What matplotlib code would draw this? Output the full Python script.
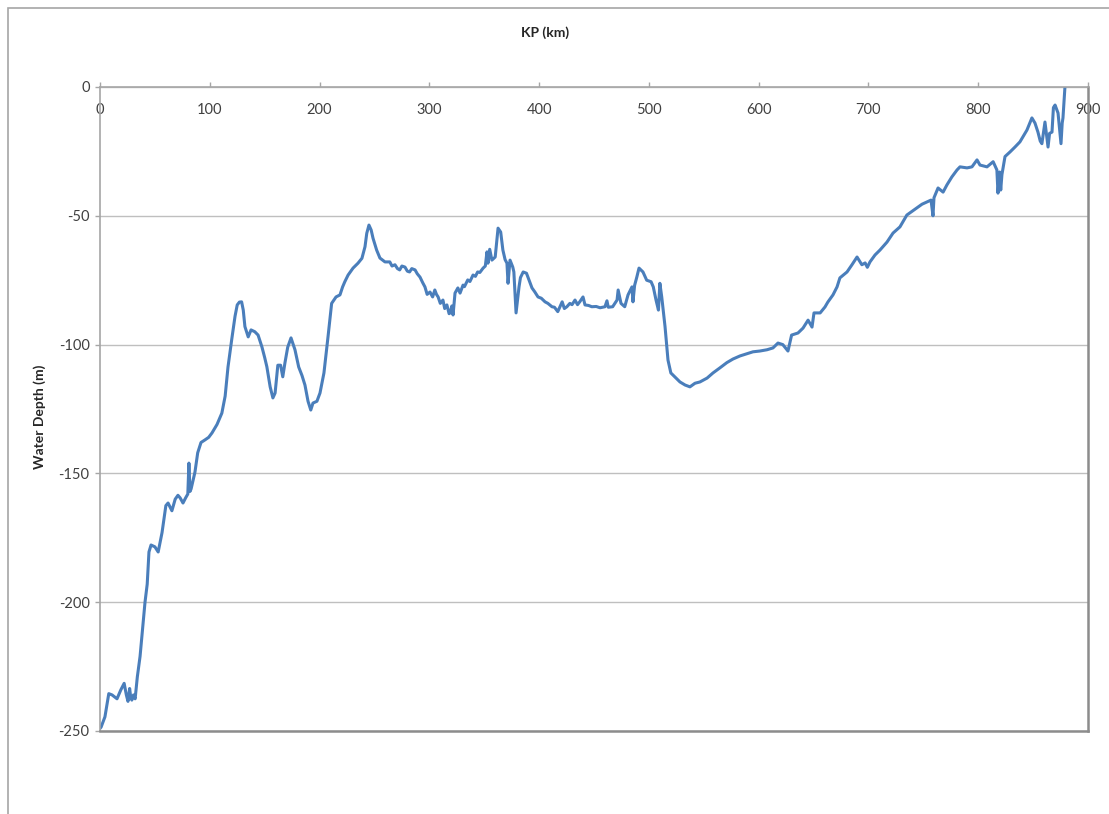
import matplotlib
matplotlib.use("Agg")
import matplotlib.pyplot as plt
from matplotlib.patches import Rectangle

plt.rcParams['font.family'] = ['Lato', 'DejaVu Sans']
plt.rcParams['axes.unicode_minus'] = False

# route profile: kilometre point vs water depth
kp_km = [
    0, 1, 4.5, 8, 11, 15.5, 19, 22, 24, 25.5, 27, 28, 29, 30.5, 32, 34, 36.5, 39, 41, 43,
    44.6, 46.5, 50, 53, 56.5, 60, 62, 65.5, 68.5, 71, 73, 75.6, 78, 80, 81, 82, 83, 86.5,
    89, 92, 95.6, 99, 102, 106.6, 111, 114, 116.6, 120, 123, 125, 127, 129, 130.5, 132,
    133.5, 135, 137.6, 141, 144, 147.5, 150, 152, 155, 157.5, 159.5, 162, 164.5, 166.5,
    168.5, 171, 174, 177.6, 181, 184, 186.7, 189.5, 192, 194, 197.6, 200.4, 204, 207.7,
    211, 215, 218.6, 221, 223, 226, 230.5, 235, 238.6, 241.4, 243, 245, 247, 248.7, 252,
    255, 259.6, 264, 266, 268.7, 271, 273, 275, 277.8, 280, 282, 284, 287, 289, 291.5, 294,
    296, 298, 300.6, 303, 305, 306.5, 308, 310, 312.4, 314, 316, 318, 319, 320.5, 321.6,
    323.4, 326, 328, 330.7, 332, 335, 337, 339.8, 342, 344, 346, 349, 351, 352.5, 353.4,
    355, 357, 360, 362.6, 365, 367, 369, 370.7, 371.7, 373.5, 376, 377, 379, 381.7, 383,
    385.5, 388.5, 393.5, 396, 399, 402, 405.4, 408, 411.7, 414, 417, 421, 423, 425.3, 428,
    430, 432.7, 435, 437, 440, 441.8, 445, 448, 452, 455.5, 460, 461.8, 463, 467, 471,
    472, 474.6, 478, 481, 484.6, 485.5, 487, 489, 491, 494.6, 498, 502, 504, 506.5, 508.7,
    510, 511.7, 514.7, 517.4, 520, 523.8, 528.3, 533, 537.4, 542, 546.5, 553, 558.4, 564.8,
    571, 576.6, 583, 589, 594.8, 601, 607.6, 613, 617.6, 622, 626.7, 630, 635.8, 640.4,
    645, 648.6, 650.4, 656, 660.4, 663, 667.7, 671.4, 674, 680.5, 685, 689.6, 694, 697,
    699, 701.4, 706, 710.5, 716.9, 722.4, 728.7, 735, 740.6, 748.8, 753.3, 757, 758.8,
    759.7, 763.4, 768, 771.5, 776, 780.7, 783.4, 789.8, 794.3, 798.9, 801.6, 808, 813.6,
    817, 818, 819.5, 820.5, 821.6, 824.4, 829, 833.5, 838, 844.4, 848.9, 851.7, 854.4,
    856.5, 858, 860.8, 863.6, 865, 867.2, 868.5, 870, 872.7, 875.4, 876.5, 877.2, 879,
]
depth_m = [
    -249, -248.5, -244.5, -235.5, -236, -237.5, -234, -231.5, -236, -238.5, -233.5, -237,
    -238, -236, -237.5, -229, -221, -209.5, -200, -193, -180.5, -177.8, -178.5, -180.5,
    -173, -162.5, -161.5, -164.5, -160, -158.5, -159.5, -161.5, -159.5, -158, -146, -157,
    -156, -149.5, -142, -138, -137, -136, -134.3, -131, -126.6, -120, -108.7, -98, -89,
    -84.6, -83.5, -83.4, -86.6, -93, -95, -97, -94.3, -95, -96.3, -100.9, -105, -108.6,
    -116.4, -120.7, -118.8, -108, -108, -112.5, -107, -101, -97.4, -102, -108.7, -112,
    -115.7, -122, -125.4, -122.7, -122, -118.8, -111, -97, -84, -81.5, -80.7, -77.6, -75.6,
    -73, -70.3, -68.4, -66.5, -62, -56.8, -53.6, -55.5, -58.7, -63.3, -66.4, -67.9, -67.9,
    -69.5, -69, -70.5, -71, -69.5, -69.9, -71.5, -71.8, -70.5, -71, -72.5, -73.8, -76,
    -77.6, -80.5, -79.6, -81.5, -78.8, -80.5, -81.5, -84, -82.7, -86, -84.6, -88, -87.7,
    -85, -88.5, -80, -78, -80, -76.9, -77.5, -74.9, -75.5, -73, -73.5, -71.8, -72, -70.3,
    -69.5, -64, -68.4, -63, -67.2, -66, -54.8, -56.3, -63.3, -67, -68.4, -76.2, -67.2,
    -69.9, -71.8, -87.7, -77.6, -74, -71.8, -72.3, -78, -79.5, -81.5, -82, -83.4, -84,
    -85.3, -85.5, -87.2, -83.4, -86, -85.3, -84, -84.5, -82.7, -84.5, -83.4, -81.5, -84.6,
    -84.8, -85.3, -85.2, -85.7, -85.3, -83, -85.5, -85.3, -82.7, -78.8, -84, -85.3, -80.7,
    -77.6, -83.4, -77, -73.8, -70.3, -71.8, -75, -75.6, -77.6, -82.7, -86.6, -76.2, -81.5,
    -93, -106, -111, -112.6, -114.5, -115.7, -116.4, -115, -114.5, -113, -111, -109, -107,
    -105.6, -104.4, -103.6, -102.8, -102.5, -102, -101.3, -99.4, -100, -102.5, -96.3,
    -95.5, -93.6, -90.5, -93.2, -87.7, -87.7, -85.4, -83.5, -80.7, -77.6, -74.1, -71.8,
    -69, -66, -69, -68.3, -70, -67.9, -65.2, -63.3, -60.2, -56.7, -54.3, -49.7, -48,
    -45.5, -44.6, -43.9, -50, -43, -39.2, -40.8, -38, -34.9, -32.2, -31, -31.4, -31, -28.3,
    -30.3, -31, -29, -32.2, -41.2, -33, -40, -34, -27, -25.2, -23.3, -21.3, -16.7, -12,
    -14, -17.5, -21, -22, -13.6, -23.3, -18, -17.5, -8, -7, -10.1, -22, -14, -12, 0,
]

x_ticks = [0, 100, 200, 300, 400, 500, 600, 700, 800, 900]
y_ticks = [0, -50, -100, -150, -200, -250]

W, H = 1109, 814
fig = plt.figure(figsize=(W / 100, H / 100), dpi=100)
fig.patch.set_facecolor('white')

# chart area border
fig.patches.append(Rectangle((8 / W, -0.05), 1.2, 1 - 8 / H + 0.05,
                             transform=fig.transFigure, fill=False,
                             edgecolor='#a6a6a6', linewidth=1.2))

ax = fig.add_axes([100 / W, 1 - 731 / H, 988 / W, 644 / H])
ax.plot(kp_km, depth_m, color='#4a7ebb', linewidth=2.2, solid_joinstyle='round')

ax.set_xlim(0, 900)
ax.set_ylim(-250, 0)
ax.set_xticks(x_ticks)
ax.set_yticks(y_ticks)
ax.yaxis.grid(True, color='#bfbfbf', linewidth=1)
ax.set_axisbelow(True)

for side in ['top', 'left']:
    ax.spines[side].set_color('#a6a6a6')
    ax.spines[side].set_linewidth(1.2)
for side in ['right', 'bottom']:
    ax.spines[side].set_color('#8c8c8c')
    ax.spines[side].set_linewidth(1.8)

# x axis sits along depth 0, labels hang just below it
ax.tick_params(axis='x', bottom=False, top=True, labelbottom=False, labeltop=True,
               direction='out', length=3.5, width=1, color='#a6a6a6',
               pad=-25, labelsize=10.5, labelcolor='#404040')
ax.tick_params(axis='y', direction='out', length=3.5, width=1, color='#a6a6a6',
               pad=4, labelsize=10.5, labelcolor='#404040')

fig.text(545 / W, 1 - 33 / H, 'KP (km)', ha='center', va='center',
         fontsize=10, fontweight='bold', color='#262626')
fig.text(40 / W, 1 - 417 / H, 'Water Depth (m)', ha='center', va='center',
         rotation=90, fontsize=10, fontweight='bold', color='#262626')

fig.savefig('out.png', dpi=100)
